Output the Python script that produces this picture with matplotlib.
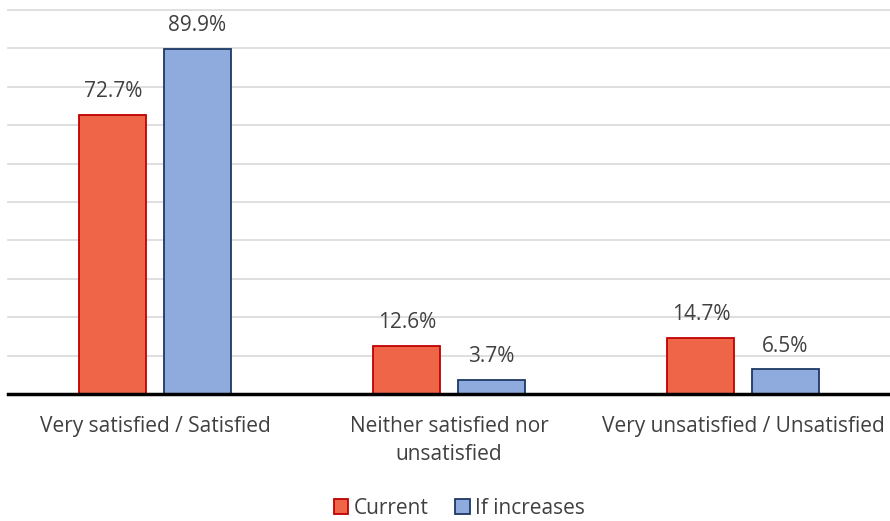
import matplotlib.pyplot as plt
from matplotlib.patches import Patch

categories = ['Very satisfied / Satisfied', 'Neither satisfied nor\nunsatisfied', 'Very unsatisfied / Unsatisfied']
current = [72.7, 12.6, 14.7]
if_increases = [89.9, 3.7, 6.5]
series_names = ['Current', 'If increases']

plt.rcParams['font.family'] = ['Open Sans', 'DejaVu Sans']
text_col = '#404040'

fig = plt.figure(figsize=(8.9, 5.21), dpi=100)
ax = fig.add_axes([0.009, 0.2438, 0.991, 0.7372])

x = list(range(len(categories)))
w = 0.228
off = 0.143
b1 = ax.bar([i - off for i in x], current, w, color='#EF6548', edgecolor='#C00000', linewidth=1.3, zorder=3)
b2 = ax.bar([i + off for i in x], if_increases, w, color='#8FAADC', edgecolor='#1F3864', linewidth=1.3, zorder=3)

for bars, vals in ((b1, current), (b2, if_increases)):
    for b, v in zip(bars, vals):
        ax.annotate(f'{v:.1f}%', (b.get_x() + b.get_width() / 2, v), xytext=(0, 9),
                    textcoords='offset points', ha='center', va='bottom',
                    fontsize=15, color=text_col)

ax.set_xlim(-0.5, 2.5)
ax.set_ylim(0, 100)
ax.set_yticks(range(0, 101, 10))
ax.yaxis.grid(True, color='#D9D9D9', linewidth=1.2, zorder=0)
for gl in ax.get_ygridlines():
    gl.set_clip_on(False)
ax.tick_params(left=False, labelleft=False, bottom=False)
for s in ['top', 'right', 'left']:
    ax.spines[s].set_visible(False)
ax.spines['bottom'].set_linewidth(2.5)
ax.spines['bottom'].set_color('black')
ax.spines['bottom'].set_zorder(4)

ax.set_xticks(x)
ax.set_xticklabels(categories, fontsize=15, color=text_col, linespacing=1.45)
ax.tick_params(axis='x', pad=12)

handles = [Patch(facecolor='#EF6548', edgecolor='#C00000', linewidth=1.3),
           Patch(facecolor='#8FAADC', edgecolor='#1F3864', linewidth=1.3)]
fig.legend(handles, series_names, loc='center', bbox_to_anchor=(0.516, 0.024), ncol=2,
           frameon=False, fontsize=15, handlelength=0.7, handleheight=0.7,
           handletextpad=0.25, columnspacing=1.3, labelcolor=text_col)

fig.savefig('out.png', dpi=100)
